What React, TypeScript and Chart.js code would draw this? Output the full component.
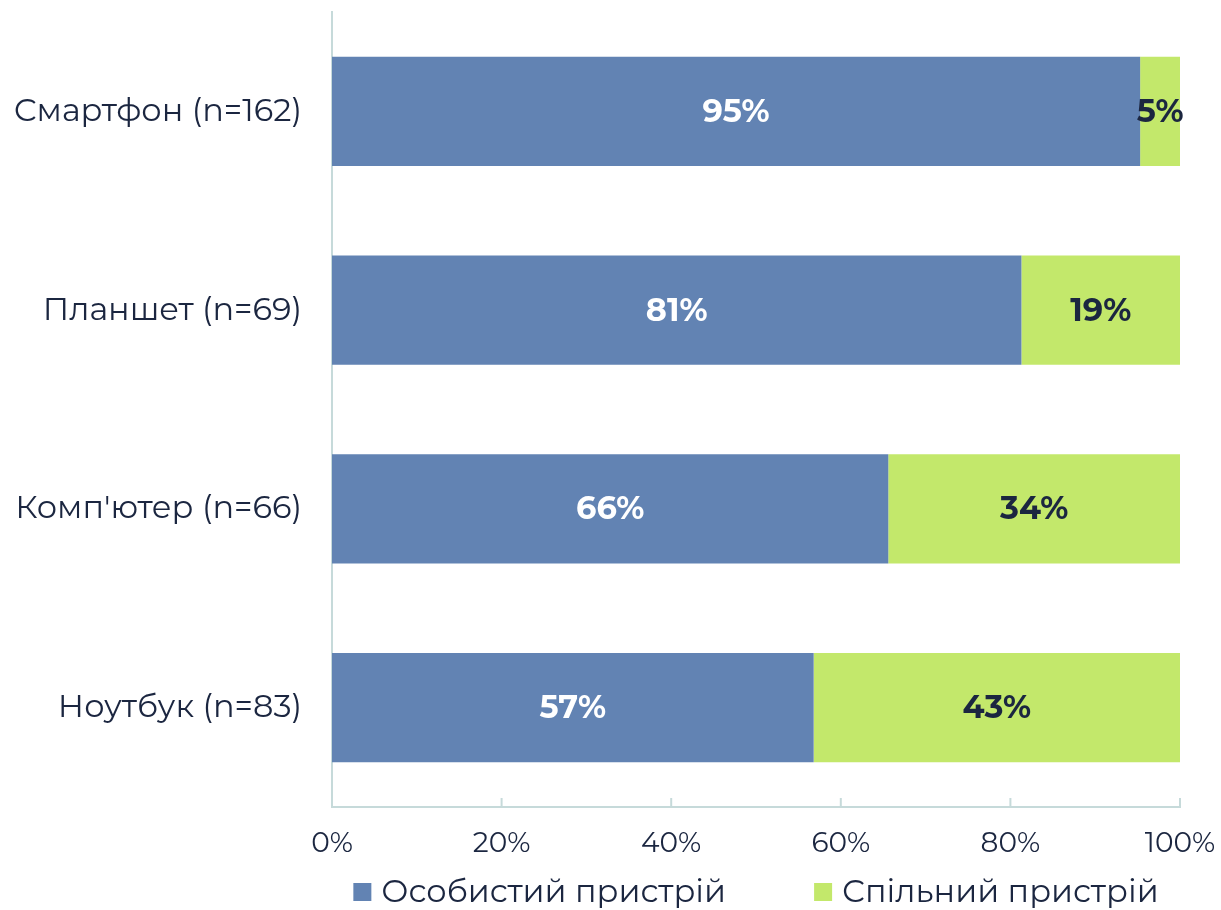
import React, { useEffect, useRef } from "react";
import { Chart, registerables } from "chart.js";

Chart.register(...registerables);

const categories = ["Смартфон (n=162)", "Планшет (n=69)", "Комп'ютер (n=66)", "Ноутбук (n=83)"];
const personal = [95.3, 81.3, 65.6, 56.8];
const shared = [4.7, 18.7, 34.4, 43.2];
const personalLabels = ["95%", "81%", "66%", "57%"];
const sharedLabels = ["5%", "19%", "34%", "43%"];
const seriesNames = ["Особистий пристрій", "Спільний пристрій"];
const xTicks = [0, 20, 40, 60, 80, 100];

const FONT = "Montserrat, 'Noto Sans', sans-serif";
const TEXT = "#1b2640";
const AXIS = "#c6dada";
const BLUE = "#6283b3";
const GREEN = "#c3e86b";

const labelPlugin = {
  id: "barLabels",
  afterDatasetsDraw(chart: any) {
    const ctx = chart.ctx;
    const lists = [personalLabels, sharedLabels];
    const colors = ["#ffffff", TEXT];
    chart.data.datasets.forEach((ds: any, di: number) => {
      const meta = chart.getDatasetMeta(di);
      meta.data.forEach((el: any, i: number) => {
        const cx = (el.x + el.base) / 2;
        ctx.save();
        ctx.font = `bold 32px ${FONT}`;
        ctx.fillStyle = colors[di];
        ctx.textAlign = "center";
        ctx.textBaseline = "middle";
        ctx.fillText(lists[di][i], cx, el.y + 1);
        ctx.restore();
      });
    });
  },
};

const tickMarkPlugin = {
  id: "tickMarks",
  afterDraw(chart: any) {
    const ctx = chart.ctx;
    const xs = chart.scales.x;
    const bottom = chart.chartArea.bottom;
    ctx.save();
    ctx.strokeStyle = AXIS;
    ctx.lineWidth = 2;
    xTicks.forEach((v) => {
      const px = xs.getPixelForValue(v);
      ctx.beginPath();
      ctx.moveTo(px, bottom);
      ctx.lineTo(px, bottom - 9);
      ctx.stroke();
    });
    ctx.restore();
  },
};

const legendPlugin = {
  id: "customLegend",
  afterDraw(chart: any) {
    const ctx = chart.ctx;
    const area = chart.chartArea;
    const box = 18;
    const gapText = 10;
    const gapItem = 88;
    const y = 892;
    ctx.save();
    ctx.font = `32px ${FONT}`;
    const items = chart.data.datasets.map((ds: any) => ({
      text: ds.label,
      color: ds.backgroundColor,
      w: box + gapText + ctx.measureText(ds.label).width,
    }));
    const total = items.reduce((s: number, it: any) => s + it.w, 0) + gapItem * (items.length - 1);
    let x = (area.left + area.right) / 2 - total / 2;
    items.forEach((it: any) => {
      ctx.fillStyle = it.color;
      ctx.fillRect(x, y - box / 2, box, box);
      ctx.fillStyle = TEXT;
      ctx.textAlign = "left";
      ctx.textBaseline = "middle";
      ctx.fillText(it.text, x + box + gapText, y + 1);
      x += it.w + gapItem;
    });
    ctx.restore();
  },
};

export default function App() {
  const ref = useRef<HTMLCanvasElement>(null);
  useEffect(() => {
    if (!ref.current) return;
    const chart = new Chart(ref.current, {
      type: "bar",
      data: {
        labels: categories,
        datasets: [
          { label: seriesNames[0], data: personal, backgroundColor: BLUE, barPercentage: 0.55, categoryPercentage: 1 },
          { label: seriesNames[1], data: shared, backgroundColor: GREEN, barPercentage: 0.55, categoryPercentage: 1 },
        ],
      },
      options: {
        indexAxis: "y",
        animation: false,
        responsive: false,
        layout: { padding: { top: 12, right: 41, left: 0, bottom: 0 } },
        scales: {
          x: {
            stacked: true,
            min: 0,
            max: 100,
            grid: { display: false, drawTicks: false },
            border: { display: true, color: AXIS, width: 2 },
            ticks: {
              stepSize: 20,
              padding: 20,
              color: TEXT,
              maxRotation: 0,
              font: { family: FONT, size: 28 },
              callback: (v: any) => v + "%",
            },
            afterFit: (s: any) => {
              s.height = 103;
              s.paddingLeft = 0;
              s.paddingRight = 0;
            },
          },
          y: {
            stacked: true,
            grid: { display: false, drawTicks: false },
            border: { display: true, color: AXIS, width: 2 },
            ticks: { padding: 30, color: TEXT, font: { family: FONT, size: 32 } },
            afterFit: (s: any) => {
              s.width = 332;
              s.paddingTop = 0;
              s.paddingBottom = 0;
            },
          },
        },
        plugins: {
          legend: { display: false },
          tooltip: { enabled: false },
        },
      },
      plugins: [labelPlugin, tickMarkPlugin, legendPlugin],
    });
    return () => chart.destroy();
  }, []);
  return (
    <div style={{ position: "fixed", left: 0, top: 0, width: 1221, height: 910, background: "#fff" }}>
      <canvas ref={ref} width={1221} height={910} />
    </div>
  );
}
